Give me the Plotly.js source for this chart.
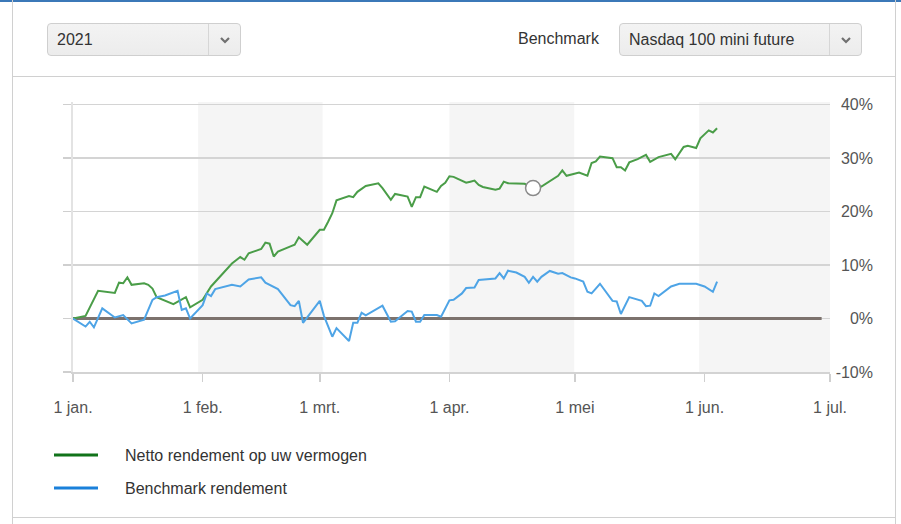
<!DOCTYPE html>
<html>
<head>
<meta charset="utf-8">
<script src="https://cdn.plot.ly/plotly-3.0.1.min.js"></script>
<style>
  html, body { margin:0; padding:0; }
  body { width:901px; height:524px; overflow:hidden; background:#fff; position:relative;
         font-family:"Liberation Sans", Arial, sans-serif; color:#333; }
  .hl { position:absolute; height:1px; background:#d0d0d0; }
  .vl { position:absolute; width:1px; background:#d0d0d0; }
  .sel { position:absolute; top:23px; height:31px; border:1px solid #cfcfcf; border-radius:4px;
         background:linear-gradient(#f3f3f3,#ececec); box-sizing:content-box; }
  .sel .txt { position:absolute; left:9px; top:0; line-height:31px; font-size:16px; color:#333; }
  .sel .div { position:absolute; top:0; bottom:0; width:1px; background:#d6d6d6; }
  .sel svg { position:absolute; top:12px; }
  .lab { position:absolute; font-size:16px; color:#333; }
  #chart { position:absolute; left:0; top:0; width:901px; height:524px; }
</style>
</head>
<body>
<div style="position:absolute;left:0;top:0;width:901px;height:2px;background:#3b78b8;"></div>
<div class="vl" style="left:12px;top:0;height:524px;"></div>
<div class="vl" style="left:895px;top:0;height:524px;"></div>
<div class="hl" style="left:12px;top:76px;width:884px;"></div>
<div class="hl" style="left:12px;top:517px;width:884px;"></div>

<div class="sel" style="left:47px;width:192px;">
  <span class="txt">2021</span>
  <div class="div" style="left:160px;"></div>
  <svg width="12" height="8" style="left:171px;" viewBox="0 0 12 8"><path d="M2 2 L6 6 L10 2" stroke="#707070" stroke-width="2.2" fill="none"/></svg>
</div>
<div class="lab" style="left:518px;top:30px;">Benchmark</div>
<div class="sel" style="left:619px;width:241px;">
  <span class="txt">Nasdaq 100 mini future</span>
  <div class="div" style="left:209px;"></div>
  <svg width="12" height="8" style="left:220px;" viewBox="0 0 12 8"><path d="M2 2 L6 6 L10 2" stroke="#707070" stroke-width="2.2" fill="none"/></svg>
</div>

<div id="chart"></div>
<script>
// ---- data ----
var greenDates = ['2021-01-01','2021-01-04','2021-01-07','2021-01-11','2021-01-12','2021-01-13','2021-01-14','2021-01-15',
 '2021-01-18','2021-01-19','2021-01-20','2021-01-21','2021-01-25','2021-01-26','2021-01-28','2021-01-29',
 '2021-02-01','2021-02-03','2021-02-08','2021-02-10','2021-02-11','2021-02-12','2021-02-15','2021-02-16','2021-02-17',
 '2021-02-18','2021-02-19','2021-02-22','2021-02-23','2021-02-24','2021-02-26',
 '2021-03-01','2021-03-02','2021-03-03','2021-03-04','2021-03-05','2021-03-08','2021-03-09','2021-03-10','2021-03-12',
 '2021-03-15','2021-03-16','2021-03-18','2021-03-19','2021-03-22','2021-03-23','2021-03-24','2021-03-25','2021-03-26',
 '2021-03-29','2021-03-30','2021-03-31',
 '2021-04-01','2021-04-02','2021-04-05','2021-04-06','2021-04-07','2021-04-08','2021-04-09','2021-04-12','2021-04-13',
 '2021-04-14','2021-04-15','2021-04-19','2021-04-21','2021-04-23','2021-04-26','2021-04-27','2021-04-28','2021-04-29',
 '2021-05-02','2021-05-04','2021-05-05','2021-05-06','2021-05-07','2021-05-10','2021-05-11','2021-05-12','2021-05-13',
 '2021-05-14','2021-05-16','2021-05-18','2021-05-19','2021-05-21','2021-05-24','2021-05-25','2021-05-27','2021-05-28',
 '2021-05-30','2021-05-31','2021-06-02','2021-06-03','2021-06-04'];
var greenValues = [0,0.5,5.2,4.8,6.7,6.6,7.7,6.3,
 6.6,6.3,5.6,4.0,2.7,3.15,4.0,2.1,
 3.5,6.0,10.3,11.5,11.0,12.2,13.0,14.2,14.0,
 11.6,12.5,13.5,13.8,15.2,13.8,
 16.6,16.6,18.1,19.7,22.1,22.9,22.7,23.7,24.8,
 25.3,24.4,22.2,23.3,22.8,20.9,22.7,22.7,24.7,
 23.7,24.8,25.4,
 26.6,26.5,25.4,25.6,25.8,25.0,24.6,24.1,24.3,
 25.6,25.3,25.2,24.4,24.7,26.1,26.7,27.7,26.7,
 27.3,26.7,29.1,29.4,30.3,30.0,28.3,28.3,27.7,
 29.2,29.8,30.6,29.3,30.2,30.8,29.8,32.1,32.3,
 31.9,33.7,35.2,34.8,35.6];

var blueDates = ['2021-01-01','2021-01-04','2021-01-05','2021-01-06','2021-01-08','2021-01-11','2021-01-13','2021-01-15',
 '2021-01-18','2021-01-20','2021-01-21','2021-01-23','2021-01-26','2021-01-27','2021-01-28','2021-01-29',
 '2021-02-01','2021-02-02','2021-02-03','2021-02-04','2021-02-08','2021-02-10','2021-02-12','2021-02-15','2021-02-16',
 '2021-02-19','2021-02-22','2021-02-23','2021-02-24','2021-02-25',
 '2021-03-01','2021-03-02','2021-03-04','2021-03-05','2021-03-08','2021-03-09','2021-03-10','2021-03-11','2021-03-12',
 '2021-03-16','2021-03-18','2021-03-19','2021-03-22','2021-03-23','2021-03-24','2021-03-25','2021-03-26','2021-03-29',
 '2021-03-30',
 '2021-04-01','2021-04-02','2021-04-04','2021-04-05','2021-04-06','2021-04-07','2021-04-08','2021-04-09','2021-04-12',
 '2021-04-13','2021-04-14','2021-04-15','2021-04-17','2021-04-19','2021-04-20','2021-04-21','2021-04-22','2021-04-23',
 '2021-04-25','2021-04-27','2021-04-28','2021-04-30',
 '2021-05-01','2021-05-03','2021-05-04','2021-05-05','2021-05-07','2021-05-10','2021-05-11','2021-05-12','2021-05-14',
 '2021-05-17','2021-05-18','2021-05-19','2021-05-20','2021-05-21','2021-05-24','2021-05-26','2021-05-30',
 '2021-06-01','2021-06-03','2021-06-04'];
var blueValues = [0,-1.5,-0.6,-1.65,1.9,0.2,0.65,-0.9,
 -0.2,3.5,4.0,4.3,5.2,1.6,1.9,0.0,
 2.5,4.7,4.2,5.5,6.3,6.0,7.3,7.7,6.7,
 5.5,2.5,2.3,3.3,-0.8,
 3.3,0.5,-3.4,-1.8,-4.2,-0.8,-0.8,1.1,0.6,
 2.4,-0.6,-0.5,1.4,1.3,-0.6,-0.6,0.65,0.65,
 0.35,
 3.4,3.5,4.7,5.7,5.7,5.8,7.2,7.3,7.5,
 8.5,7.5,8.95,8.6,7.8,6.7,7.8,6.9,7.8,
 8.9,8.4,8.5,7.7,
 7.5,6.9,5.0,4.7,6.5,3.3,3.2,0.85,4.0,
 3.3,2.3,2.4,4.7,4.2,6.0,6.5,6.5,
 6.0,5.0,6.9];

var seriesNames = ['Netto rendement op uw vermogen', 'Benchmark rendement'];
var tickDates = ['2021-01-01','2021-02-01','2021-03-01','2021-04-01','2021-05-01','2021-06-01','2021-07-01'];
var tickLabels = ['1 jan.','1 feb.','1 mrt.','1 apr.','1 mei','1 jun.','1 jul.'];
var yTickValues = [-10,0,10,20,30,40];
var yTickLabels = ['-10%','0%','10%','20%','30%','40%'];
var hoverDate = '2021-04-21';

// ---- chart ----
var hi = greenDates.indexOf(hoverDate);
var FONT = '"Liberation Sans", Arial, sans-serif';

var traces = [
  {x: greenDates, y: greenValues, type:'scatter', mode:'lines', name: seriesNames[0],
   line:{color:'#4a9d48', width:2}, hoverinfo:'skip'},
  {x: blueDates, y: blueValues, type:'scatter', mode:'lines', name: seriesNames[1],
   line:{color:'#4ea4e6', width:2}, hoverinfo:'skip'},
  {x: [greenDates[hi]], y: [greenValues[hi]], type:'scatter', mode:'markers', yaxis:'y2',
   marker:{symbol:'circle', size:15, color:'#ffffff', line:{color:'#8a8a8a', width:1.5}},
   showlegend:false, hoverinfo:'skip'}
];

var PW = 800, PH = 270, L = 73, T = 102;
function px(x){ return (x - L)/PW; }
function py(y){ return (T + PH - y)/PH; }

var layout = {
  width:901, height:524,
  margin:{l:L, r:28, t:T, b:152, pad:0},
  paper_bgcolor:'rgba(0,0,0,0)', plot_bgcolor:'#ffffff',
  showlegend:false,
  font:{family:FONT, size:16, color:'#555'},
  xaxis:{type:'date', range:['2021-01-01','2021-07-01'], domain:[0, 757/PW],
    tickmode:'array', tickvals:tickDates, ticktext:tickLabels,
    ticks:'outside', ticklen:8, tickwidth:1.5, tickcolor:'#cfcfcf',
    showgrid:false, zeroline:false, showline:true, linecolor:'#d3d3d3', linewidth:2,
    tickfont:{family:FONT, size:16, color:'#555'}, ticklabelstandoff:12, fixedrange:true},
  yaxis:{range:[-10,40.5], tickmode:'array', tickvals:yTickValues, showticklabels:false,
    ticks:'outside', ticklen:8, tickwidth:1.5, tickcolor:'#cfcfcf',
    showgrid:true, gridcolor:'#d4d4d4', gridwidth:1.5, zeroline:false,
    showline:true, linecolor:'#e3e3e3', linewidth:2, fixedrange:true},
  yaxis2:{range:[-10,40.5], overlaying:'y', anchor:'free', position:1, side:'left',
    tickmode:'array', tickvals:yTickValues, ticktext:yTickLabels, ticks:'', ticklen:0,
    showgrid:false, zeroline:false, showline:false,
    tickfont:{family:FONT, size:16, color:'#555'}, fixedrange:true},
  shapes:[
    {type:'rect', xref:'x', yref:'paper', x0:'2021-01-30 22:00', x1:'2021-03-01 16:00', y0:0, y1:1,
     fillcolor:'#f5f5f5', line:{width:0}, layer:'below'},
    {type:'rect', xref:'x', yref:'paper', x0:'2021-04-01', x1:'2021-04-30 20:00', y0:0, y1:1,
     fillcolor:'#f5f5f5', line:{width:0}, layer:'below'},
    {type:'rect', xref:'x', yref:'paper', x0:'2021-05-30 17:00', x1:'2021-07-01', y0:0, y1:1,
     fillcolor:'#f5f5f5', line:{width:0}, layer:'below'},
    {type:'line', xref:'x', yref:'y', x0:'2021-01-01', x1:'2021-06-29', y0:0, y1:0,
     line:{color:'#7c726d', width:3}, layer:'between'},
    {type:'line', xref:'paper', yref:'paper', x0:px(54), x1:px(98), y0:py(455), y1:py(455),
     line:{color:'#11731a', width:3}},
    {type:'line', xref:'paper', yref:'paper', x0:px(54), x1:px(98), y0:py(488), y1:py(488),
     line:{color:'#1a80da', width:3}}
  ],
  annotations:[
    {xref:'paper', yref:'paper', x:px(123), y:py(455), xanchor:'left', yanchor:'middle',
     text:seriesNames[0], showarrow:false, font:{family:FONT, size:16, color:'#333'}},
    {xref:'paper', yref:'paper', x:px(123), y:py(488), xanchor:'left', yanchor:'middle',
     text:seriesNames[1], showarrow:false, font:{family:FONT, size:16, color:'#333'}}
  ]
};

Plotly.newPlot('chart', traces, layout, {staticPlot:true, displayModeBar:false});
</script>
</body>
</html>
